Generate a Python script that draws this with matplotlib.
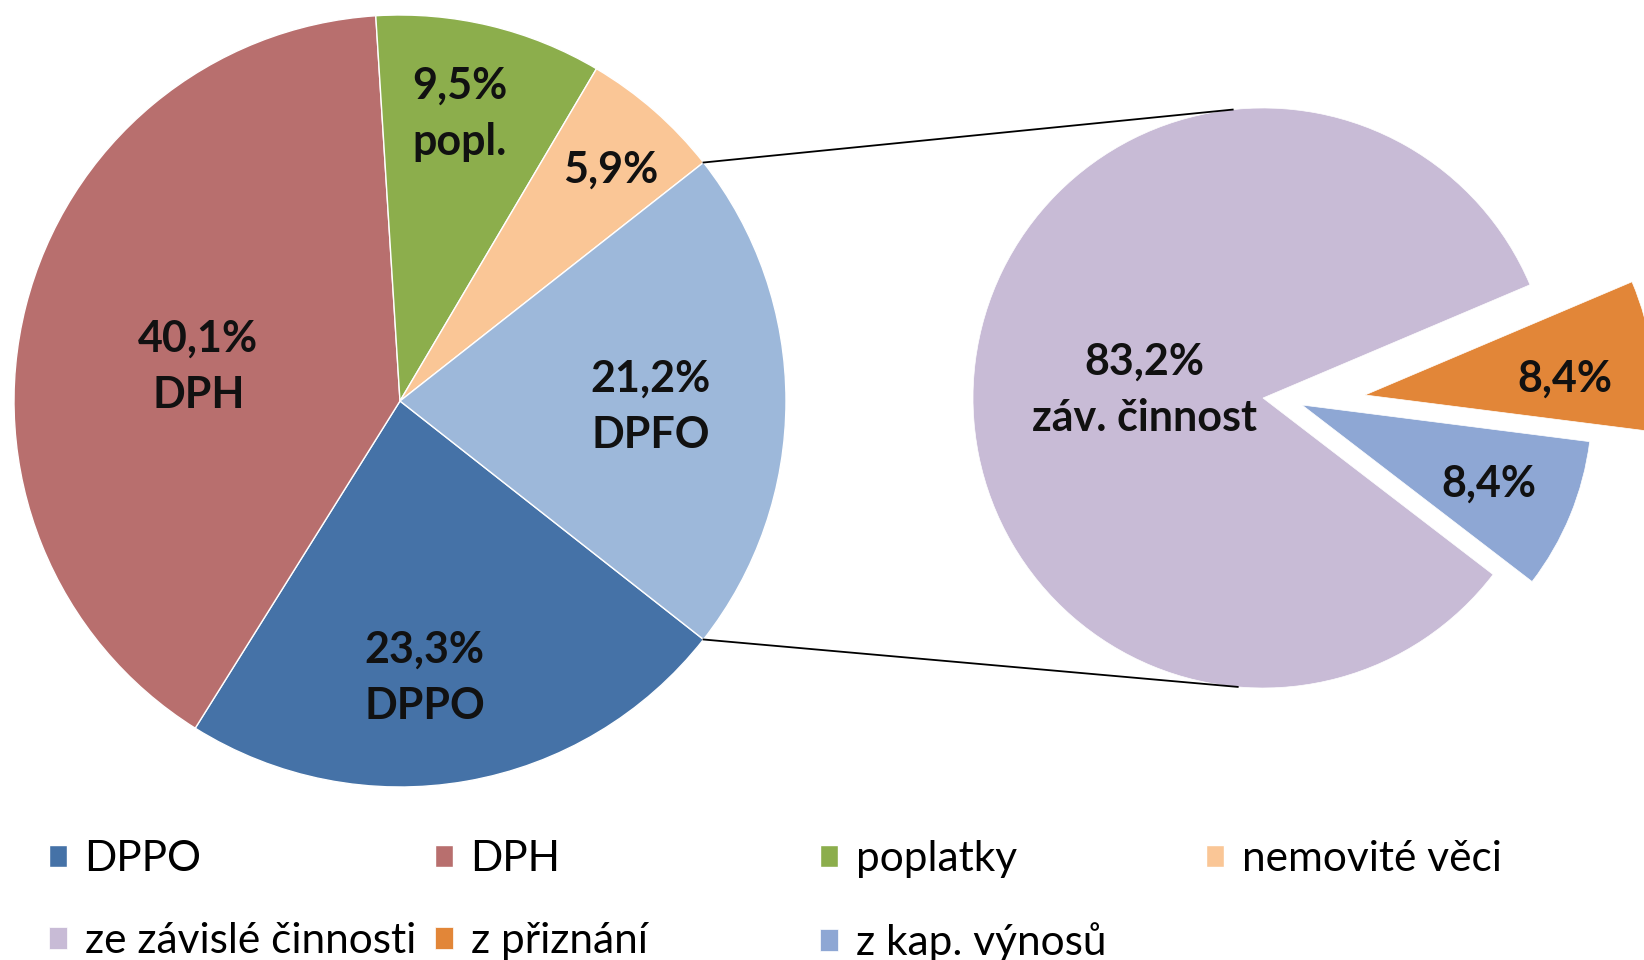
import numpy as np
import matplotlib
matplotlib.use('Agg')
import matplotlib.pyplot as plt

# main pie: DPFO is the slice split out into the second pie
main_names = ['DPPO', 'DPH', 'poplatky', 'nemovité věci', 'DPFO']
main_short = ['DPPO', 'DPH', 'popl.', '', 'DPFO']
main_vals = [23.3, 40.1, 9.5, 5.9, 21.2]
main_colors = ['#4572A7', '#B86F6E', '#8CAE4C', '#FAC696', '#9DB8DA']

# second pie: breakdown of DPFO
sub_names = ['ze závislé činnosti', 'z přiznání', 'z kap. výnosů']
sub_short = ['záv. činnost', '', '']
sub_vals = [83.2, 8.4, 8.4]
sub_colors = ['#C8BBD6', '#E28638', '#8EA7D4']

plt.rcParams['font.family'] = ['Lato', 'DejaVu Sans']

W, H = 1644, 960
fig = plt.figure(figsize=(W / 100, H / 100), dpi=100)
ax = fig.add_axes([0, 0, 1, 1])

c1, r1 = (400, 559), 386
c2, r2 = (1263, 562), 290

def fmt(v):
    return f'{v:.1f}'.replace('.', ',') + '%'

start1 = -main_vals[-1] * 3.6 / 2
w1, _ = ax.pie(main_vals, colors=main_colors, startangle=start1, counterclock=False,
               center=c1, radius=r1, wedgeprops=dict(edgecolor='white', linewidth=1))
w2, _ = ax.pie(sub_vals, colors=sub_colors, startangle=-37.5, counterclock=False,
               center=c2, radius=r2, wedgeprops=dict(edgecolor='white', linewidth=0.5))
# Excel-style explosion of the two small slices (pixel offsets)
for w, (dx, dy) in zip(w2, [(0, 0), (102, 3), (39, -7)]):
    w.set_center((c2[0] + dx, c2[1] + dy))

lab_kw = dict(ha='center', va='center', fontsize=31, fontweight='bold', color='#111111',
              linespacing=1.5)

def put_labels(wedges, vals, short, r, dists, dangs):
    for w, v, s, d, da in zip(wedges, vals, short, dists, dangs):
        a = np.deg2rad((w.theta1 + w.theta2) / 2 + da)
        cx, cy = w.center
        txt = fmt(v) + ('\n' + s if s else '')
        ax.text(cx + d * r * np.cos(a), cy + d * r * np.sin(a), txt, **lab_kw)

put_labels(w1, main_vals, main_short, r1, [0.72, 0.53, 0.76, 0.81, 0.65],
           [-4.8, 4.6, 1.8, -1.1, -1.4])
put_labels(w2, sub_vals, sub_short, r2, [0.41, 0.69, 0.70], [3.4, -3.2, -0.5])

# connector lines between DPFO slice and second pie
other = w1[-1]
for ang, ang2 in [(other.theta2, 96), (other.theta1, -95)]:
    a = np.deg2rad(ang)
    b = np.deg2rad(ang2)
    ax.plot([c1[0] + r1 * np.cos(a), c2[0] + r2 * np.cos(b)],
            [c1[1] + r1 * np.sin(a), c2[1] + r2 * np.sin(b)], color='black', lw=1.3)

ax.set_xlim(0, W)
ax.set_ylim(0, H)
ax.set_aspect('equal')
ax.axis('off')

# legend: Excel row-major layout, one legend per column
handles = list(w1[:4]) + list(w2)
names = main_names[:4] + sub_names
col_x = [49, 435, 820, 1206]
for j in range(4):
    hs = handles[j::4]
    ls = names[j::4]
    fig.legend(hs, ls, loc='upper left', bbox_to_anchor=(col_x[j] / W, 1 - 840 / H),
               frameon=False, fontsize=30.5, borderpad=0, borderaxespad=0,
               handlelength=0.42, handleheight=0.42, handletextpad=0.42,
               labelspacing=1.05)

fig.savefig('out.png', dpi=100)
